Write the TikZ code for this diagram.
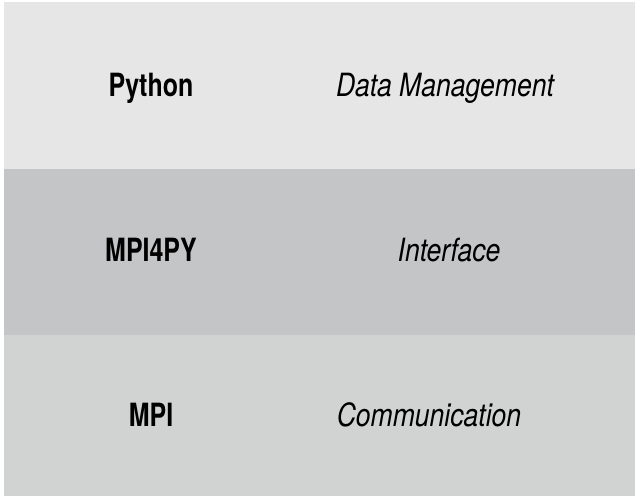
\documentclass[tikz,border=0pt]{standalone}
\usepackage{fontspec}
\newfontfamily\toolfont[FakeStretch=0.78]{TeX Gyre Heros}
\newfontfamily\rolefont[FakeStretch=0.83]{TeX Gyre Heros}
\definecolor{layerA}{HTML}{E6E6E6}
\definecolor{layerB}{HTML}{C4C5C6}
\definecolor{layerC}{HTML}{D1D3D2}

\tikzset{%
	tool label/.style={
		anchor=base,
		inner sep=0pt,
		font=\toolfont\bfseries\fontsize{24}{28}\selectfont
	},
	role label/.style={
		anchor=base,
		inner sep=0pt,
		font=\rolefont\itshape\fontsize{24}{28}\selectfont
	},
}

\begin{document}
\begin{tikzpicture}[x=0.75pt, y=-0.75pt]
  % frame
\useasboundingbox (0,0) rectangle (636,496);
\fill[white] (0,0) rectangle (636,496);

% the three layers
\foreach \c/\t/\b in {layerA/2/169, layerB/169/335, layerC/335/496}
{
	\fill [\c] (4,\t) rectangle (635,\b);
}

\foreach \m/\l/\y in {1/Python/96, 2/MPI4PY/261, 3/MPI/426}
\node [tool label] (tool-\m) at (151,\y) {\l};

\node [role label] (role-1) at (445,96) {Data Management};
\node [role label] (role-2) at (449,261) {Interface};
\node [role label] (role-3) at (429,426) {Communication};

\end{tikzpicture}
\end{document}
